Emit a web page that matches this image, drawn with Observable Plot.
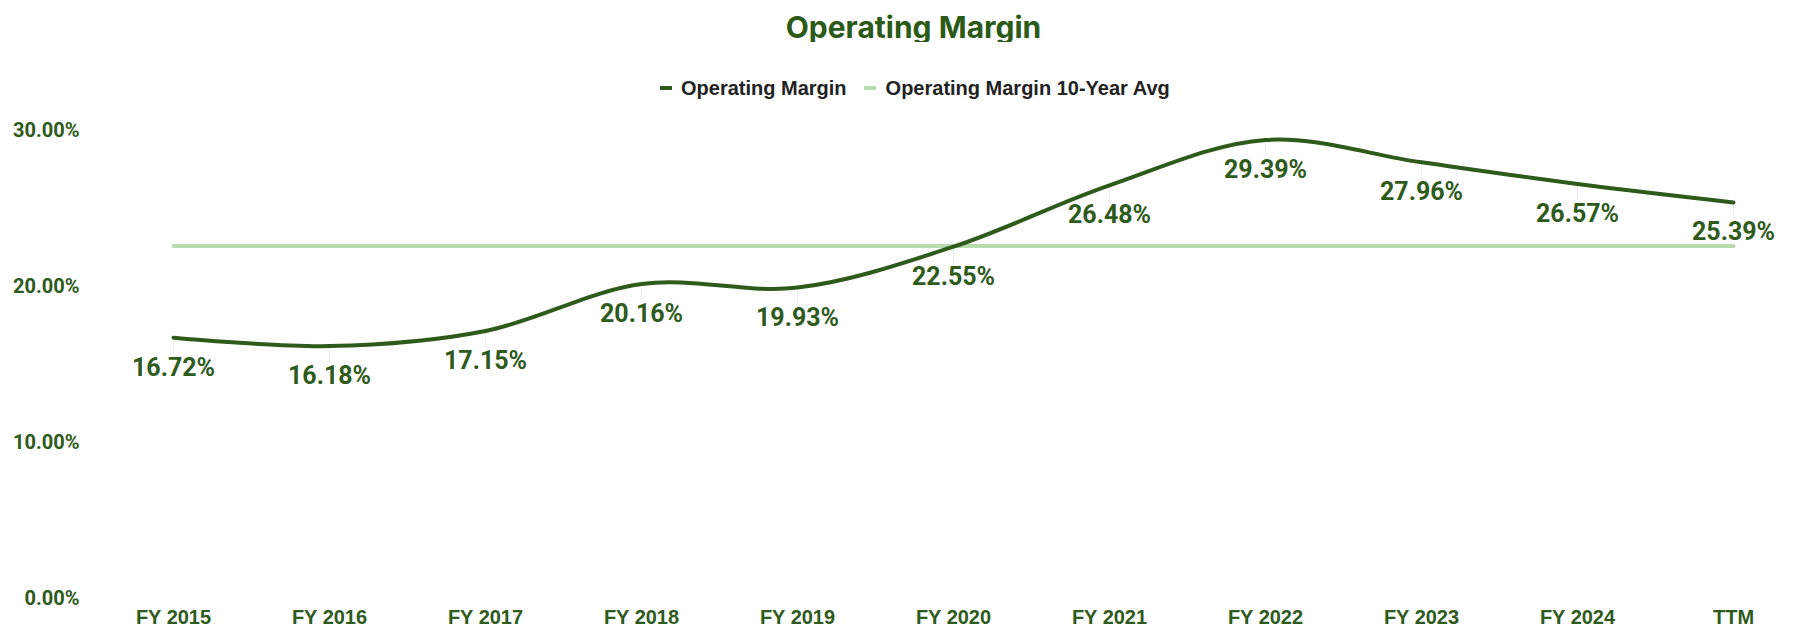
<!DOCTYPE html>
<html>
<head>
<meta charset="utf-8">
<script src="https://cdn.jsdelivr.net/npm/d3@7"></script>
<script src="https://cdn.jsdelivr.net/npm/@observablehq/plot@0.6"></script>
<style>
  html, body { margin: 0; padding: 0; background: #fff; }
  #wrap { width: 1803px; }
  #header { position: relative; width: 1803px; height: 105px; }
  #titleclip { position: absolute; top: 0; left: 0; width: 1803px; height: 42px; overflow: hidden; }
  #title { position: absolute; top: 12px; left: 0; width: 1803px; padding-left: 24px; box-sizing: border-box;
    text-align: center; font: 700 30px/30px Inter, Roboto, sans-serif; color: #2b5a18; }
  #legend { position: absolute; top: 78px; left: 660px; display: flex; align-items: center;
    font: 700 20px/20px "Liberation Sans", Arial, sans-serif; color: #222; white-space: nowrap; }
  .sw { width: 12px; height: 4px; display: inline-block; margin-right: 9px; }
  svg { display: block; }
</style>
</head>
<body>
<div id="wrap">
  <div id="header">
    <div id="titleclip"><div id="title">Operating Margin</div></div>
    <div id="legend">
      <span class="sw" style="background:#2e5a1c"></span><span>Operating Margin</span>
      <span class="sw" style="background:#b7dcb0;margin-left:17px;margin-right:10px"></span><span>Operating Margin 10-Year Avg</span>
    </div>
  </div>
  <div id="chart"></div>
</div>
<script>
const categories = ["FY 2015","FY 2016","FY 2017","FY 2018","FY 2019","FY 2020","FY 2021","FY 2022","FY 2023","FY 2024","TTM"];
const margin = [16.72, 16.18, 17.15, 20.16, 19.93, 22.55, 26.48, 29.39, 27.96, 26.57, 25.39];
const avgValue = 22.59;
const yTicks = [0, 10, 20, 30];

const data = categories.map((c, i) => ({cat: c, v: margin[i]}));
const green = "#2e5a1c";
const fmt = v => v.toFixed(2) + "%";

const chart = Plot.plot({
  width: 1803,
  height: 536,
  marginTop: 25,
  marginBottom: 43,
  marginLeft: 168,
  marginRight: 66,
  style: {background: "#fff", overflow: "visible"},
  x: {type: "point", domain: categories, padding: 0, label: null},
  y: {domain: [0, 30], label: null},
  marks: [
    Plot.axisY({ticks: yTicks, tickFormat: fmt, tickSize: 0, tickPadding: 89,
      fontSize: 20, fontWeight: 700, fontFamily: "Roboto, sans-serif", fill: green}),
    Plot.axisX({tickSize: 0, tickPadding: 11, fontSize: 20, fontWeight: 700,
      fontFamily: "'Liberation Sans', Arial, sans-serif", fill: green}),
    Plot.ruleX(data, {x: "cat", y1: "v", y2: d => d.v - 1.1, stroke: "#ececec", strokeWidth: 1}),
    Plot.line(data, {x: "cat", y: () => avgValue, stroke: "#b7dcb0", strokeWidth: 4}),
    Plot.line(data, {x: "cat", y: "v", stroke: green, strokeWidth: 4, curve: "catmull-rom"}),
    Plot.text(data, {x: "cat", y: "v", text: d => fmt(d.v), dy: 30, fill: green,
      fontSize: 25, fontWeight: 700, fontFamily: "Roboto, sans-serif", lineAnchor: "middle"})
  ]
});
document.getElementById("chart").appendChild(chart);
</script>
</body>
</html>
